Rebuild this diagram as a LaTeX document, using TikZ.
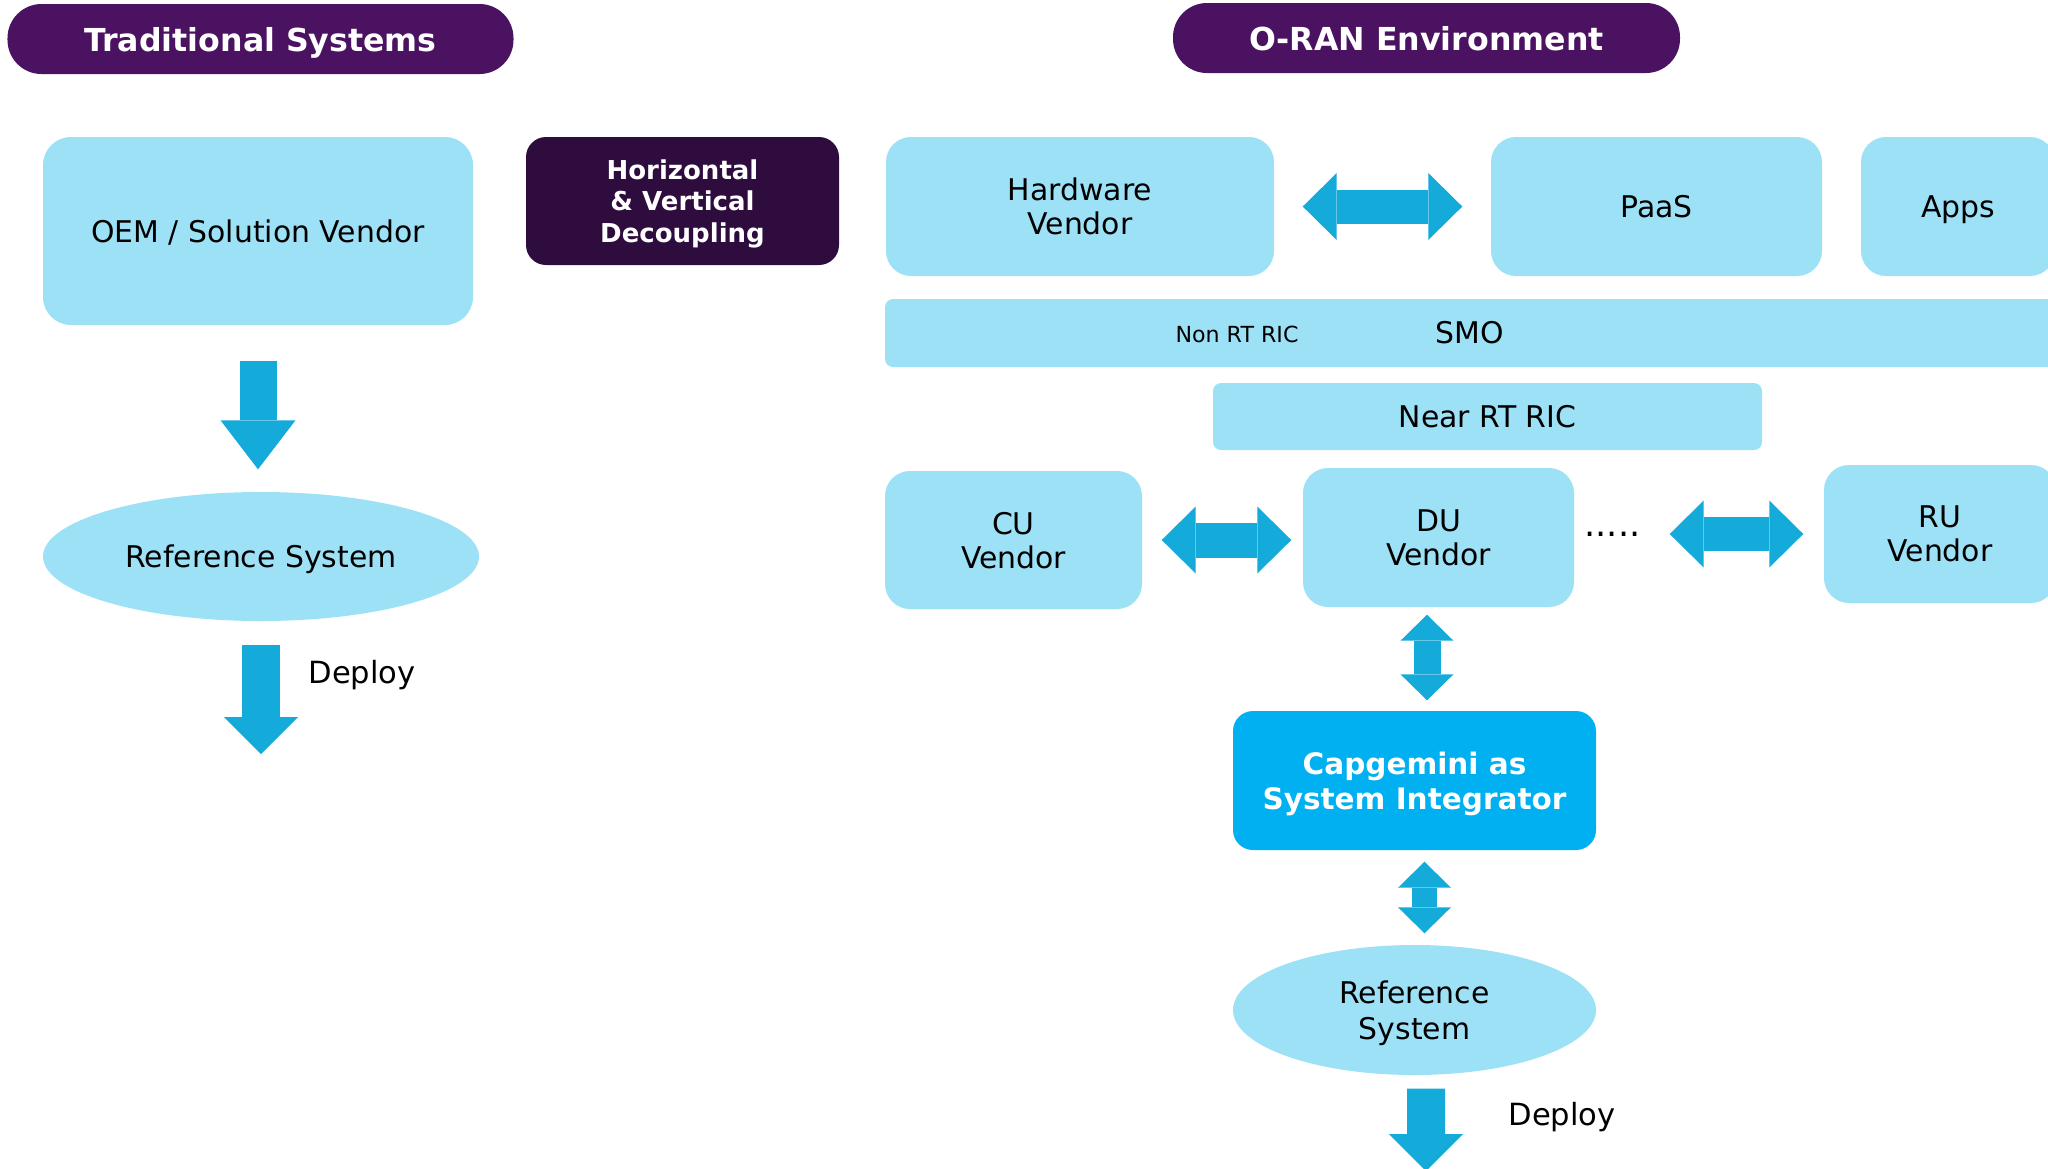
\documentclass[tikz,border=0pt]{standalone}
\usepackage{fontspec}
\setmainfont{DejaVu Sans}
\usetikzlibrary{positioning,shapes.geometric,arrows.meta}

\definecolor{pillpurple}{RGB}{74,18,96}
\definecolor{darkplum}{RGB}{46,13,62}
\definecolor{skyfill}{RGB}{157,225,246}
\definecolor{arrowblue}{RGB}{20,171,219}
\definecolor{capblue}{RGB}{0,176,240}

\tikzset{
  title pill/.style={fill=pillpurple, text=white, rounded corners=0.34cm, minimum width=5.06cm, minimum height=0.70cm, inner sep=0pt, text depth=0pt, font=\fontsize{9}{11}\selectfont\bfseries},
  vendor/.style={fill=skyfill, rounded corners=0.25cm, inner sep=0pt, text depth=0pt, align=center, font=\fontsize{8.5}{9.7}\selectfont},
  bar/.style={fill=skyfill, rounded corners=0.08cm, inner sep=0pt, font=\fontsize{8.5}{9.7}\selectfont},
  ref ellipse/.style={ellipse, fill=skyfill, inner sep=0pt, text depth=0pt, align=center, font=\fontsize{8.5}{10.2}\selectfont},
  blockline/.style={draw=arrowblue, line width=#1},
  plain label/.style={inner sep=0pt, font=\fontsize{8.7}{10}\selectfont},
  bigT/.tip={Triangle[length=3.4mm,width=6.7mm,line width=0pt]},
  smallT/.tip={Triangle[length=2.6mm,width=5.3mm,line width=0pt]},
  downT/.tip={Triangle[length=4.9mm,width=7.5mm,line width=0pt]},
  deployT/.tip={Triangle[length=3.7mm,width=7.4mm,line width=0pt]}
}

\begin{document}
\begin{tikzpicture}
\useasboundingbox (0,0) rectangle (20.48,-11.68);

% headers
\node[title pill] (trad) at (2.605,-0.39) {Traditional Systems};
\node[title pill, minimum width=5.07cm] (oran) at (14.265,-0.38) {O-RAN Environment};

% traditional side
\node[vendor, rounded corners=0.28cm, minimum width=4.30cm, minimum height=1.88cm] (oem) at (2.58,-2.31) {OEM / Solution Vendor};
\node[ref ellipse, minimum width=4.36cm, minimum height=1.29cm] (ref1) at (2.61,-5.565) {Reference System};
\coordinate (dep1) at (2.61,-7.54);
\node[plain label] (deploy1) at (3.62,-6.75) {Deploy};

\node[fill=darkplum, text=white, rounded corners=0.2cm, minimum width=3.13cm, minimum height=1.28cm, inner sep=0pt, text depth=0pt, align=center, font=\fontsize{7.4}{9}\selectfont\bfseries] (decouple) at (6.825,-2.01) {Horizontal\\ \& Vertical\\ Decoupling};

% o-ran side
\node[vendor, minimum width=3.88cm, minimum height=1.39cm] (hw) at (10.80,-2.065) {Hardware\\ Vendor};
\node[vendor, minimum width=3.31cm, minimum height=1.39cm] (paas) at (16.565,-2.065) {PaaS};
\node[vendor, minimum width=1.94cm, minimum height=1.39cm] (apps) at (19.58,-2.065) {Apps};

\node[bar, minimum width=11.70cm, minimum height=0.68cm] (smo) at (14.70,-3.33) {SMO};
\node[inner sep=0pt, font=\fontsize{6.3}{7}\selectfont] (nonrt) at (12.37,-3.34) {Non RT RIC};
\node[bar, minimum width=5.49cm, minimum height=0.67cm] (nearrt) at (14.875,-4.165) {Near RT RIC};

\node[vendor, minimum width=2.57cm, minimum height=1.38cm] (cu) at (10.135,-5.40) {CU\\ Vendor};
\node[vendor, minimum width=2.71cm, minimum height=1.39cm] (du) at (14.385,-5.375) {DU\\ Vendor};
\node[vendor, minimum width=2.32cm, minimum height=1.38cm] (ru) at (19.40,-5.34) {RU\\ Vendor};
\node[inner sep=0pt, anchor=base, font=\fontsize{10}{11}\selectfont] (dots) at (16.125,-5.36) {.....};

\node[fill=capblue, text=white, rounded corners=0.2cm, minimum width=3.63cm, minimum height=1.39cm, inner sep=0pt, text depth=0pt, align=center, font=\fontsize{8.4}{10}\selectfont\bfseries] (capg) at (14.145,-7.805) {Capgemini as\\ System Integrator};
\node[ref ellipse, minimum width=3.63cm, minimum height=1.30cm] (ref2) at (14.145,-10.10) {Reference\\ System};
\coordinate (dep2) at (14.26,-11.71);
\node[plain label] (deploy2) at (15.62,-11.17) {Deploy};

% block arrows
\draw[blockline=.37cm, -downT, shorten <=.35cm, shorten >=.22cm] (oem.south) -- (oem.south |- ref1.north);
\draw[blockline=.38cm, -deployT, shorten <=.23cm] (ref1.south) -- (dep1);

\draw[blockline=.34cm, bigT-bigT, shorten <=.28cm, shorten >=.28cm] (hw.east) -- (paas.west);
\draw[blockline=.35cm, bigT-bigT, shorten <=.19cm, shorten >=.11cm] (cu.east) -- (cu.east -| du.west);
\draw[blockline=.34cm, bigT-bigT, shorten <=.95cm, shorten >=.20cm] (ru.west -| du.east) -- (ru.west);

\draw[blockline=.27cm, smallT-smallT, shorten <=.07cm, shorten >=.10cm] ([xshift=-1.15mm]du.south) -- ([xshift=-1.15mm]du.south |- capg.north);
\draw[blockline=.25cm, smallT-smallT, shorten <=.11cm, shorten >=.11cm] ([xshift=1mm]capg.south) -- ([xshift=1mm]capg.south |- ref2.north);
\draw[blockline=.38cm, -deployT, shorten <=.13cm] ([xshift=1.15mm]ref2.south) -- (dep2);
\end{tikzpicture}
\end{document}
